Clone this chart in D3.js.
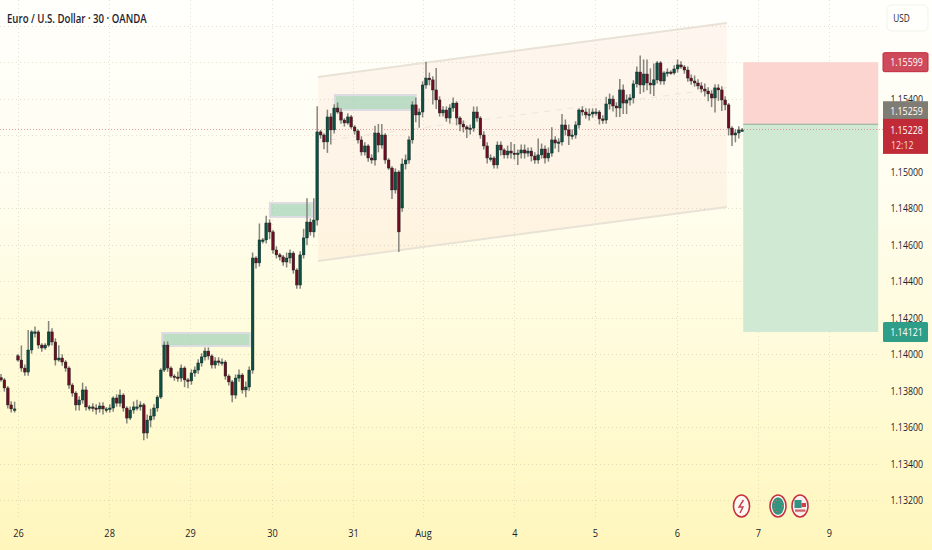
<!DOCTYPE html>
<html><head><meta charset="utf-8"><title>EUR/USD</title>
<script src="https://cdn.jsdelivr.net/npm/d3@7/dist/d3.min.js"></script>
<style>html,body{margin:0;padding:0;background:#fff}svg{display:block}text{font-family:"Open Sans",sans-serif}</style>
</head><body><div id="chart"></div>
<script>
const closes=[1.13858,1.13814,1.13721,1.13699,1.13699,1.13967,1.13923,1.13901,1.14022,1.14121,
1.14121,1.14049,1.14033,1.14049,1.14121,1.14066,1.13967,1.13978,1.13956,1.13923,
1.13830,1.13786,1.13721,1.13748,1.13803,1.13710,1.13710,1.13704,1.13699,1.13715,
1.13699,1.13699,1.13704,1.13759,1.13731,1.13775,1.13704,1.13649,1.13693,1.13710,
1.13710,1.13721,1.13567,1.13638,1.13660,1.13704,1.13764,1.13912,1.14049,1.13923,
1.13879,1.13874,1.13868,1.13923,1.13858,1.13852,1.13896,1.13912,1.13951,1.13984,
1.14016,1.13989,1.13940,1.13962,1.13956,1.13956,1.13879,1.13847,1.13775,1.13868,
1.13885,1.13803,1.13819,1.13912,1.14526,1.14499,1.14625,1.14625,1.14718,1.14669,
1.14570,1.14543,1.14532,1.14504,1.14526,1.14553,1.14460,1.14378,1.14543,1.14636,
1.14723,1.14669,1.14734,1.15217,1.15200,1.15162,1.15299,1.15228,1.15348,1.15326,
1.15282,1.15266,1.15299,1.15244,1.15222,1.15173,1.15107,1.15140,1.15074,1.15063,
1.15211,1.15145,1.15200,1.15063,1.15019,1.14899,1.14997,1.14669,1.15041,1.15063,
1.15173,1.15365,1.15310,1.15326,1.15474,1.15512,1.15502,1.15447,1.15392,1.15321,
1.15337,1.15293,1.15348,1.15375,1.15293,1.15260,1.15244,1.15233,1.15238,1.15326,
1.15293,1.15200,1.15140,1.15074,1.15074,1.15036,1.15145,1.15118,1.15091,1.15112,
1.15101,1.15096,1.15101,1.15118,1.15101,1.15112,1.15085,1.15063,1.15091,1.15123,
1.15074,1.15101,1.15173,1.15156,1.15162,1.15255,1.15228,1.15195,1.15200,1.15255,
1.15337,1.15326,1.15310,1.15315,1.15326,1.15326,1.15288,1.15282,1.15370,1.15397,
1.15359,1.15348,1.15447,1.15375,1.15392,1.15403,1.15480,1.15545,1.15474,1.15534,
1.15485,1.15474,1.15502,1.15595,1.15496,1.15540,1.15545,1.15540,1.15562,1.15584,
1.15573,1.15556,1.15512,1.15496,1.15485,1.15469,1.15452,1.15441,1.15425,1.15403,
1.15458,1.15447,1.15392,1.15365,1.15238,1.15200,1.15211,1.15228,1.15228];
const opens=[1.13870,1.13858,1.13814,1.13721,1.13699,1.13990,1.13967,1.13923,1.13901,1.14022,
1.14121,1.14121,1.14049,1.14033,1.14049,1.14121,1.14066,1.13967,1.13978,1.13956,
1.13923,1.13830,1.13786,1.13721,1.13748,1.13803,1.13710,1.13710,1.13704,1.13699,
1.13715,1.13699,1.13699,1.13704,1.13759,1.13731,1.13775,1.13704,1.13649,1.13693,
1.13710,1.13710,1.13721,1.13567,1.13638,1.13660,1.13704,1.13764,1.13912,1.14049,
1.13923,1.13879,1.13874,1.13868,1.13923,1.13858,1.13852,1.13896,1.13912,1.13951,
1.13984,1.14016,1.13989,1.13940,1.13962,1.13956,1.13956,1.13879,1.13847,1.13775,
1.13868,1.13885,1.13803,1.13819,1.13912,1.14526,1.14499,1.14625,1.14625,1.14718,
1.14669,1.14570,1.14543,1.14532,1.14504,1.14526,1.14553,1.14460,1.14378,1.14543,
1.14636,1.14723,1.14669,1.14734,1.15217,1.15200,1.15162,1.15299,1.15228,1.15348,
1.15326,1.15282,1.15266,1.15299,1.15244,1.15222,1.15173,1.15107,1.15140,1.15074,
1.15063,1.15211,1.15145,1.15200,1.15063,1.15019,1.14899,1.14997,1.14800,1.15041,
1.15063,1.15173,1.15365,1.15310,1.15326,1.15474,1.15512,1.15502,1.15447,1.15392,
1.15321,1.15337,1.15293,1.15348,1.15375,1.15293,1.15260,1.15244,1.15233,1.15238,
1.15326,1.15293,1.15200,1.15140,1.15074,1.15074,1.15036,1.15145,1.15118,1.15091,
1.15112,1.15101,1.15096,1.15101,1.15118,1.15101,1.15112,1.15085,1.15063,1.15091,
1.15123,1.15074,1.15101,1.15173,1.15156,1.15162,1.15255,1.15228,1.15195,1.15200,
1.15255,1.15337,1.15326,1.15310,1.15315,1.15326,1.15326,1.15288,1.15282,1.15370,
1.15397,1.15359,1.15348,1.15447,1.15375,1.15392,1.15403,1.15480,1.15545,1.15474,
1.15534,1.15485,1.15474,1.15502,1.15595,1.15496,1.15540,1.15545,1.15540,1.15562,
1.15584,1.15573,1.15556,1.15512,1.15496,1.15485,1.15469,1.15452,1.15441,1.15425,
1.15403,1.15458,1.15447,1.15392,1.15365,1.15238,1.15200,1.15211,1.15228];
// wick lengths above / below the candle body, in pips
const upperWicks=[2,1,1,2,4,1,8,2,11,1,
3,1,1,1,6,2,2,7,2,1,
1,1,1,2,4,2,1,2,2,2,
2,1,2,1,2,3,1,1,2,3,
4,2,1,3,4,2,1,1,2,2,
1,1,3,2,1,1,2,2,2,2,
2,2,1,2,2,2,1,1,1,2,
3,1,3,2,3,1,9,1,4,2,
1,2,1,1,3,2,1,1,2,5,
13,2,12,14,1,1,4,2,2,3,
2,1,2,1,1,1,2,2,1,2,
4,5,6,1,1,1,2,1,3,3,
2,2,4,2,2,9,3,2,12,2,
2,2,2,3,1,1,2,1,2,3,
3,1,2,2,2,1,2,2,1,3,
5,5,2,3,3,2,2,2,9,3,
2,3,7,2,2,6,3,3,3,2,
1,2,2,3,2,2,1,2,4,3,
2,2,6,3,3,2,2,3,9,8,
8,8,9,1,1,1,2,1,2,3,
2,1,2,2,3,2,2,3,2,2,
2,2,2,2,1,1,2,2,1];
const lowerWicks=[1,2,2,2,2,1,2,2,2,2,
3,2,2,1,1,2,3,1,2,2,
2,2,3,3,2,2,2,2,3,2,
3,2,2,2,2,2,2,3,1,2,
2,2,4,3,4,2,2,1,1,2,
1,2,2,2,4,4,2,2,2,2,
2,2,2,2,2,2,2,2,4,2,
2,2,4,2,2,3,2,2,2,4,
2,2,2,2,3,3,2,2,2,2,
4,2,3,3,2,4,6,8,2,1,
2,2,1,1,2,2,2,2,2,2,
3,4,2,2,1,5,2,11,2,3,
2,2,4,7,3,2,3,8,5,2,
2,2,3,2,4,4,3,5,3,2,
2,2,2,3,2,2,2,3,2,2,
3,3,6,3,3,2,3,2,2,2,
3,2,2,3,5,2,3,5,2,2,
2,2,2,3,2,2,3,2,2,3,
3,5,5,6,6,3,3,2,5,4,
4,5,6,2,2,2,2,1,1,2,
1,2,2,2,2,2,2,3,4,5,
8,6,6,3,4,6,4,3,1];
const priceTicks=[1.158,1.156,1.154,1.152,1.15,1.148,1.146,1.144,1.142,1.14,1.138,1.136,1.134,1.132];
const priceLabels=[1.154,1.15,1.148,1.146,1.144,1.142,1.14,1.138,1.136,1.134,1.132];
const dateLabels=["26","28","29","30","31","Aug","4","5","6","7","9"];
const datePositions=[5,31.8,55.6,79.7,103.5,124.1,151,174.7,198.8,222.6,243.5];
const channelRange=[93.2,213.5];
const channelTop=[1.15518,1.15814];
const channelMid=[1.15164,1.15460];
const channelBottom=[1.14510,1.14806];
const zoneStarts=[47.4,79.1,98.2];
const zoneEnds=[73.2,91.5,122];
const zoneHighs=[1.14115,1.14827,1.15419];
const zoneLows=[1.14044,1.14751,1.15337];
const positionRange=[218.3,258];
const positionEntry=1.15259, positionStop=1.15599, positionTarget=1.14121, lastPrice=1.15228;
const countdown="12:12";
const title="Euro / U.S. Dollar · 30 · OANDA";

const W=932,H=550,plotBottom=518,scaleLeft=883,scaleRight=928,scaleMid=906.5;
const x=d3.scaleLinear().domain([0,100]).range([1,341]);
const y=d3.scaleLinear().domain([1.14,1.132]).range([354,500]);
const pip=0.0001;
const candles=closes.map((c,i)=>({i,o:opens[i],c,h:Math.max(opens[i],c)+upperWicks[i]*pip,l:Math.min(opens[i],c)-lowerWicks[i]*pip}));
const svg=d3.select("#chart").append("svg").attr("width",W).attr("height",H).attr("viewBox",[0,0,W,H]);
const defs=svg.append("defs");
const g=defs.append("linearGradient").attr("id","bg").attr("x1",0).attr("x2",0).attr("y1",0).attr("y2",1);
[[0,"#fffffc"],[.35,"#fffdef"],[.7,"#fffbd6"],[1,"#fff6bc"]].forEach(s=>g.append("stop").attr("offset",s[0]).attr("stop-color",s[1]));
defs.append("filter").attr("id","soft").attr("x","-2%").attr("y","-2%").attr("width","104%").attr("height","104%").append("feGaussianBlur").attr("stdDeviation",.3);
svg.append("rect").attr("width",W).attr("height",H).attr("fill","url(#bg)");

// squeeze text horizontally: the reference type is narrow
function squeeze(sel,k){sel.each(function(){const n=this.getComputedTextLength();d3.select(this).attr("textLength",n*k).attr("lengthAdjust","spacingAndGlyphs");});}

// grid
const grid=svg.append("g").attr("stroke","#a8a690").attr("stroke-opacity",.33).attr("stroke-dasharray","1 3");
grid.selectAll("line.h").data(priceTicks).join("line").attr("class","h").attr("x1",0).attr("x2",880).attr("y1",d=>Math.round(y(d))+.5).attr("y2",d=>Math.round(y(d))+.5);
grid.selectAll("line.v").data(datePositions).join("line").attr("class","v").attr("y1",0).attr("y2",plotBottom).attr("x1",d=>Math.round(x(d))+.5).attr("x2",d=>Math.round(x(d))+.5);

// channel
svg.append("path").attr("d",d3.line()([[x(channelRange[0]),y(channelTop[0])],[x(channelRange[1]),y(channelTop[1])],[x(channelRange[1]),y(channelBottom[1])],[x(channelRange[0]),y(channelBottom[0])]])+"Z")
  .attr("fill","#f07a64").attr("fill-opacity",.07);
[channelTop,channelBottom].forEach(c=>svg.append("line").attr("x1",x(channelRange[0])).attr("x2",x(channelRange[1])).attr("y1",y(c[0])).attr("y2",y(c[1])).attr("stroke","#e9e2d6").attr("stroke-width",2));
svg.append("line").attr("x1",x(channelRange[0])).attr("x2",x(channelRange[1])).attr("y1",y(channelMid[0])).attr("y2",y(channelMid[1])).attr("stroke","#efe6da").attr("stroke-width",1).attr("stroke-dasharray","6 6");

// zones
svg.selectAll("rect.zone").data(zoneStarts).join("rect").attr("class","zone")
  .attr("x",d=>x(d)).attr("width",(d,i)=>x(zoneEnds[i])-x(d)).attr("y",(d,i)=>y(zoneHighs[i])).attr("height",(d,i)=>y(zoneLows[i])-y(zoneHighs[i]))
  .attr("fill","#a4d2b8").attr("fill-opacity",.72).attr("stroke","#dcdce2").attr("stroke-width",2);

// position tool
const px0=x(positionRange[0]),pw=x(positionRange[1])-px0;
svg.append("rect").attr("x",px0).attr("width",pw).attr("y",y(positionStop)).attr("height",y(positionEntry)-y(positionStop)).attr("fill","#fcd5d0");
svg.append("rect").attr("x",px0).attr("width",pw).attr("y",y(positionEntry)).attr("height",y(positionTarget)-y(positionEntry)).attr("fill","#cfe9d3");
svg.append("line").attr("x1",px0).attr("x2",px0+pw).attr("y1",y(positionEntry)).attr("y2",y(positionEntry)).attr("stroke","#8fa898").attr("stroke-width",1);

// last price line
svg.append("line").attr("x1",0).attr("x2",scaleLeft).attr("y1",Math.round(y(lastPrice))-.5).attr("y2",Math.round(y(lastPrice))-.5).attr("stroke","#d8606a").attr("stroke-opacity",.6).attr("stroke-dasharray","1 2");

// candles
const cg=svg.append("g").attr("filter","url(#soft)");
cg.selectAll("line").data(candles).join("line").attr("x1",d=>x(d.i)).attr("x2",d=>x(d.i)).attr("y1",d=>y(d.h)).attr("y2",d=>y(d.l)).attr("stroke","#85857c").attr("stroke-width",1.5);
const bodyW=x(1)-x(0)-.7;
cg.selectAll("rect").data(candles).join("rect").attr("x",d=>x(d.i)-bodyW/2).attr("width",bodyW)
  .attr("y",d=>Math.min(y(d.o),y(d.c))).attr("height",d=>Math.max(1.5,Math.abs(y(d.o)-y(d.c))))
  .attr("fill",d=>d.c>=d.o?"#0c4f42":"#6e1022").attr("stroke","#10201c").attr("stroke-width",.4);

// axes
const yAxis=svg.append("g").attr("transform",`translate(${scaleLeft},0)`).call(d3.axisRight(y).tickValues(priceLabels).tickSize(0).tickPadding(7.5).tickFormat(d3.format(".5f")));
yAxis.select(".domain").remove();
yAxis.selectAll("text").attr("font-size",11).attr("font-weight",500).attr("fill","#1e222d").style("font-family",'"Open Sans",sans-serif').call(squeeze,.8);
const xAxis=svg.append("g").attr("transform",`translate(0,${plotBottom})`).call(d3.axisBottom(x).tickValues(datePositions).tickSize(0).tickPadding(11).tickFormat((d,i)=>dateLabels[i]));
xAxis.select(".domain").remove();
xAxis.selectAll("text").attr("font-size",11.5).attr("font-weight",500).attr("fill","#1e222d").style("font-family",'"Open Sans",sans-serif').call(squeeze,.8);

// scale labels
const priceFmt=d3.format(".5f");
function label(xp,yp,t,fill,anchor){
  return svg.append("text").attr("x",xp).attr("y",yp).attr("dy","0.35em").attr("text-anchor",anchor||"middle").attr("font-size",11).attr("font-weight",500).attr("fill",fill||"#fff").text(t).call(squeeze,.8);
}
function tag(price,h,fill,stroke){
  const cy=y(price);
  svg.append("rect").attr("x",scaleLeft).attr("y",cy-h/2).attr("width",scaleRight-scaleLeft).attr("height",h).attr("rx",1.5).attr("fill",fill).attr("stroke",stroke||"none");
  label(scaleMid,cy,priceFmt(price));
}
tag(positionStop,19,"#cf4a5a","#c12c3c");
tag(positionTarget,20,"#2f9e88");
const ey=y(positionEntry),ly=y(lastPrice);
svg.append("rect").attr("x",scaleLeft).attr("y",ey-23).attr("width",scaleRight-scaleLeft).attr("height",18).attr("fill","#7f7c74");
label(scaleMid,ey-13,priceFmt(positionEntry));
svg.append("rect").attr("x",scaleLeft).attr("y",ly-11).attr("width",scaleRight-scaleLeft).attr("height",35).attr("fill","#c12b37");
label(scaleMid,ly,priceFmt(lastPrice));
label(891,ly+15.5,countdown,"#f6dcdc","start");

// USD box
svg.append("rect").attr("x",887).attr("y",5).attr("width",41).attr("height",26).attr("rx",5).attr("fill","#fffffb").attr("stroke","#f3f2e8");
svg.append("text").attr("x",901.5).attr("y",18).attr("dy","0.35em").attr("text-anchor","middle").attr("font-size",11).attr("font-weight",500).attr("fill","#1e222d").text("USD").call(squeeze,.75);

// title
svg.append("text").attr("x",7).attr("y",18).attr("dy","0.35em").attr("font-size",13).attr("font-weight",600).attr("fill","#1e222d").text(title).call(squeeze,.74);

// event icons
const ring=(cx,fill)=>{
  svg.append("ellipse").attr("cx",cx).attr("cy",506).attr("rx",8).attr("ry",11).attr("fill","#fffdf8").attr("stroke","#c8323f").attr("stroke-width",1.6);
  svg.append("ellipse").attr("cx",cx).attr("cy",506).attr("rx",6).attr("ry",8.8).attr("fill",fill);
};
ring(741.5,"#fdf7f2");
svg.append("path").attr("d","M743.5 500 L739 507 L743 507 L740 513").attr("fill","none").attr("stroke","#c8404c").attr("stroke-width",1.4);
ring(778,"#2f9582");
svg.append("ellipse").attr("cx",778).attr("cy",506).attr("rx",4).attr("ry",6).attr("fill","none").attr("stroke","#b97a5a").attr("stroke-width",1.3).attr("stroke-dasharray","1 2");
ring(800,"#f7ecec");
svg.append("rect").attr("x",794.5).attr("y",500).attr("width",7).attr("height",8).attr("fill","#2f9582");
svg.append("rect").attr("x",801.5).attr("y",503).attr("width",4.5).attr("height",4).attr("fill","#d0404c");
svg.append("rect").attr("x",795).attr("y",509.5).attr("width",10.5).attr("height",2.2).attr("fill","#d0606a");
</script></body></html>
